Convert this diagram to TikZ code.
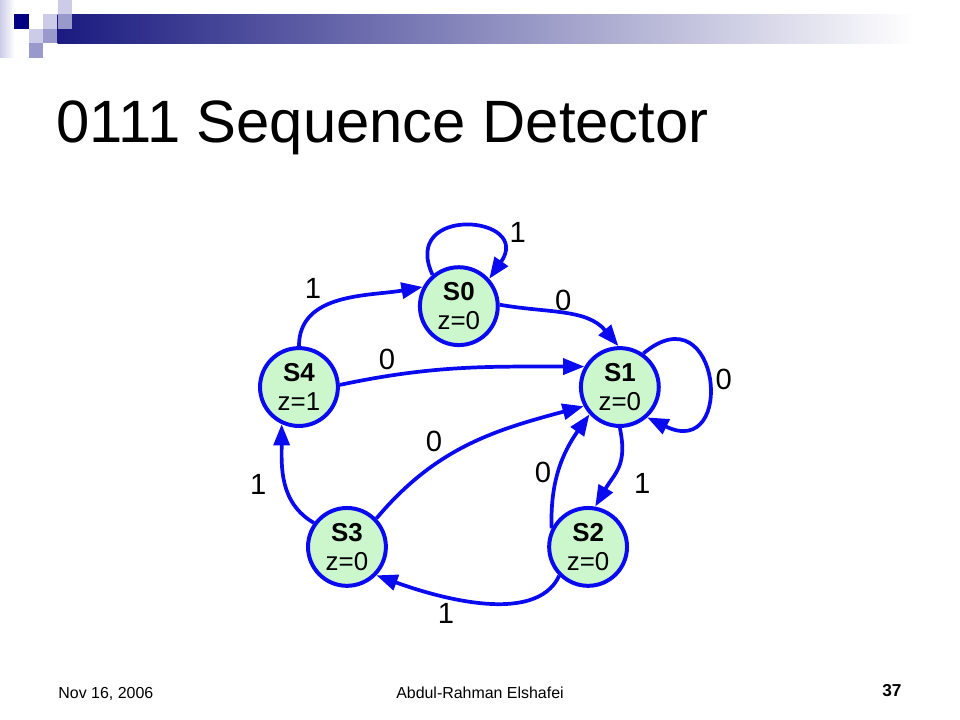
\documentclass[tikz,border=0pt]{standalone}
\usepackage{fontspec}
\setmainfont{Liberation Sans}
\usepackage{xcolor}
\usepackage{tikz}
\usetikzlibrary{positioning,arrows.meta,shapes.geometric,calc}

\definecolor{stblue}{RGB}{10,10,240}
\definecolor{stgreen}{RGB}{204,247,204}
\definecolor{sqDark}{RGB}{0,0,128}
\definecolor{sqLight}{RGB}{204,204,232}
\definecolor{sqMid}{RGB}{153,153,204}
\definecolor{barDark}{RGB}{26,26,128}
\definecolor{barMid}{RGB}{165,165,195}

\begin{document}
\begin{tikzpicture}[
    state/.style={circle, draw=stblue, line width=3pt, fill=stgreen, minimum size=2.06cm, inner sep=0pt, align=center, font=\fontsize{19.5}{22}\selectfont},
    edge/.style={-{Triangle[length=16pt, width=12pt]}, line width=2.8pt, draw=stblue},
    lbl/.style={font=\fontsize{22}{26}\selectfont, inner sep=0pt},
    foot/.style={font=\fontsize{12}{14}\selectfont, inner sep=0pt}
]
\useasboundingbox (0,0) rectangle (25.4,-19.05);

% Corner squares and bar
\shade[left color=sqLight, right color=white] (0,0) rectangle (0.381,-1.524);
\foreach \c/\r/\col in {1/1/sqDark, 2/2/sqLight, 2/3/sqMid, 3/1/sqLight, 3/2/sqMid, 4/0/sqLight}
    \fill[\col] (\c*0.381,-\r*0.381) rectangle ++(0.381,-0.381);
\shade[left color=barDark, middle color=barMid, right color=white] (1.524,-0.381) rectangle (24.2,-1.143);
\fill[sqMid] (1.524,-0.381) rectangle ++(0.381,-0.381);

% Title
\node[anchor=base west, inner sep=0pt, font=\fontsize{45}{50}\selectfont] (title) at (1.48,-3.78) {0111 Sequence Detector};

% States
\node[state] (S0) at (12.14,-8.10) {\textbf{S0}\\z=0};
\node[state] (S4) at (7.91,-10.24) {\textbf{S4}\\z=1};
\node[state] (S1) at (16.40,-10.24) {\textbf{S1}\\z=0};
\node[state] (S3) at (9.18,-14.47) {\textbf{S3}\\z=0};
\node[state] (S2) at (15.56,-14.47) {\textbf{S2}\\z=0};

% Transitions
\draw[edge] (S0.130) to[out=115, in=55, looseness=3.5] (S0.42);
\draw[edge] (S4.90) to[out=90, in=190] (S0.152);
\draw[edge] (S0.2) to[out=-10, in=130] (S1.92);
\draw[edge] (S4.3) to[out=12, in=180] (S1.150);
\draw[edge] (S1.55) to[out=40, in=-26, looseness=4] (S1.-48);
\draw[edge] (S3.44) to[out=50, in=195] (S1.208);
\draw[edge] (S2.153) to[out=92, in=235] (S1.222);
\draw[edge] (S1.-90) to[out=-78, in=60, looseness=1.2] (S2.80);
\draw[edge] (S2.-135) to[out=-115, in=-20, looseness=0.8] (S3.-44);
\draw[edge] (S3.144) to[out=150, in=-90] (S4.245);

% Input labels
\node[lbl] (l00) at (13.70,-6.14) {1};
\node[lbl] (l40) at (8.28,-7.62) {1};
\node[lbl] (l01) at (14.90,-7.95) {0};
\node[lbl] (l41) at (10.24,-9.52) {0};
\node[lbl] (l11) at (19.15,-10.05) {0};
\node[lbl] (l31) at (11.48,-11.69) {0};
\node[lbl] (l21) at (14.37,-12.51) {0};
\node[lbl] (l12) at (16.99,-12.78) {1};
\node[lbl] (l34) at (6.83,-12.83) {1};
\node[lbl] (l23) at (11.80,-16.22) {1};

% Footer
\node[foot, anchor=base west] (date) at (1.54,-18.47) {Nov 16, 2006};
\node[foot, anchor=base] (author) at (12.70,-18.47) {Abdul-Rahman Elshafei};
\node[foot, anchor=base east, font=\fontsize{13}{15}\selectfont\bfseries] (page) at (23.86,-18.44) {37};

\end{tikzpicture}
\end{document}
